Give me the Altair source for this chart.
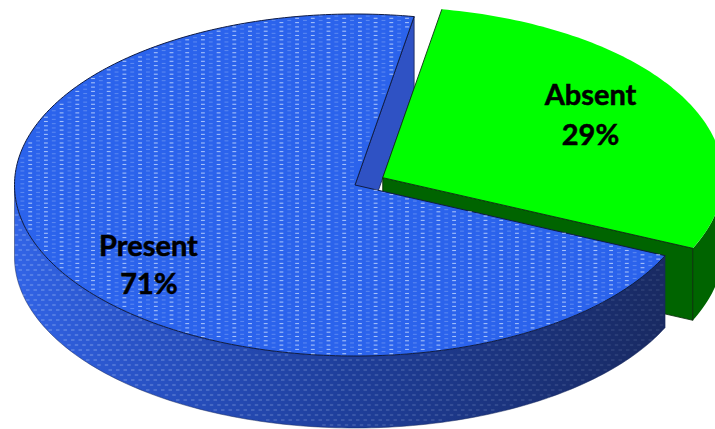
import numpy as np
import pandas as pd
import altair as alt

# Survey split shown on the tilted pie
categories = ["Present", "Absent"]
shares = [71, 29]
share_labels = ["71%", "29%"]

# Layout of the tilted pie, in chart units
WIDTH, HEIGHT = 715, 429
CENTER = np.array([355.0, 185.0])
RX, RY = 340.5, 171.0
DEPTH = 72.0
EXPLODE = 0.092
FIRST_ANGLE = 10.0  # clockwise from the top, where the Absent wedge starts

absent_sweep = shares[1] / sum(shares) * 360.0
absent_start = FIRST_ANGLE
absent_end = FIRST_ANGLE + absent_sweep
absent_mid = np.radians((absent_start + absent_end) / 2)
ABSENT_CENTER = CENTER + np.array(
    [RX * EXPLODE * np.sin(absent_mid), -RY * EXPLODE * np.cos(absent_mid)]
)

PROJ = alt.Projection(type="identity", scale=1, translate=[0, 0])


def rim(center, start, end, drop=0.0, step=1.0):
    """Points along the pie's elliptical rim between two clockwise angles."""
    n = int(abs(end - start) / step) + 2
    t = np.radians(np.linspace(start, end, n))
    return [
        [float(center[0] + RX * np.sin(a)), float(center[1] - RY * np.cos(a) + drop)]
        for a in t
    ]


def shape(geometry, **mark):
    feature = {"type": "Feature", "properties": {}, "geometry": geometry}
    data = alt.InlineData(values={"type": "FeatureCollection", "features": [feature]},
                          format=alt.DataFormat(type="json", property="features"))
    return alt.Chart(data).mark_geoshape(clip=True, **mark).project(**PROJ.to_dict())


def polygon(points, **mark):
    return shape({"type": "Polygon", "coordinates": [points + [points[0]]]}, **mark)


def edge(points, color, width=0.9):
    return shape({"type": "LineString", "coordinates": points},
                 filled=False, stroke=color, strokeWidth=width)


def inside_top(x, y, center, start, end):
    u, v = (x - center[0]) / RX, (center[1] - y) / RY
    ang = np.degrees(np.arctan2(u, v)) % 360
    return u * u + v * v < 0.995 and (ang - start) % 360 < (end - start)


def texture_top():
    # Dashes in columns; every other column is fainter and sits half a row lower
    rows = []
    start, end = absent_end, FIRST_ANGLE + 360
    for i, x in enumerate(np.arange(CENTER[0] - RX, CENTER[0] + RX, 7.85)):
        offset = 2.15 if i % 2 else 0.0
        for y in np.arange(CENTER[1] - RY, CENTER[1] + RY, 4.3) + offset:
            if inside_top(x - 2.5, y, CENTER, start, end) and inside_top(x + 2.5, y, CENTER, start, end):
                rows.append({"x": x, "y": y, "a": 0.28 if i % 2 else 0.72})
    return pd.DataFrame(rows)


def texture_wall():
    # Staggered dashes on the curved wall, fading towards the shaded right side
    rows = []
    right = rim(CENTER, absent_end, absent_end)[0][0] - 2
    for j, y in enumerate(np.arange(CENTER[1], CENTER[1] + RY + DEPTH, 5.0)):
        for x in np.arange(CENTER[0] - RX + 2, right, 7.5) + (3.75 if j % 2 else 0):
            u = (x - CENTER[0]) / RX
            if abs(u) >= 1 or x > right:
                continue
            rim_y = CENTER[1] + RY * np.sqrt(1 - u * u)
            if rim_y + 2 < y < rim_y + DEPTH - 2:
                rows.append({"x": x, "y": y, "a": 0.45 - 0.28 * max(0, (x - 100) / 560)})
    return pd.DataFrame(rows)


def dashes(frame, size):
    return (
        alt.Chart(frame)
        .mark_point(shape="M-1 -0.28H1V0.28H-1Z", filled=True, size=size,
                    color="#d5e6ff", strokeWidth=0)
        .encode(longitude="x:Q", latitude="y:Q",
                opacity=alt.Opacity("a:Q", scale=None))
        .project(**PROJ.to_dict())
    )


# Cut face of the large slice, seen through the gap
start_pt = rim(CENTER, FIRST_ANGLE, FIRST_ANGLE)[0]
cut_face = polygon(
    [CENTER.tolist(), start_pt, [start_pt[0], start_pt[1] + DEPTH],
     [CENTER[0], CENTER[1] + DEPTH]],
    fill="#2F52C4", stroke="#14224f", strokeWidth=0.8,
)

# Absent wedge: inner wall, outer wall, top
absent_rim = rim(ABSENT_CENTER, absent_start, absent_end)
absent_first_pt, absent_end_pt = absent_rim[0], absent_rim[-1]
absent_end_low = [absent_end_pt[0], absent_end_pt[1] + DEPTH]
absent_inner = polygon(
    [ABSENT_CENTER.tolist(), absent_end_pt, absent_end_low,
     [ABSENT_CENTER[0], ABSENT_CENTER[1] + DEPTH]],
    fill="#006400", stroke="#0a2a0a", strokeWidth=0.8,
)
outer_top = rim(ABSENT_CENTER, 90, absent_end)
outer_bottom = rim(ABSENT_CENTER, 90, absent_end, drop=DEPTH)
absent_outer = polygon(outer_top + outer_bottom[::-1], fill="#006400")
absent_top = polygon([ABSENT_CENTER.tolist()] + absent_rim, fill="#00FF00")
absent_edges = edge([absent_first_pt, ABSENT_CENTER.tolist(), absent_end_pt], "#0c3010")
absent_corner = edge([absent_end_pt, absent_end_low], "#0a2a0a", 0.7)

# Present slice: curved wall and top
wall_top = rim(CENTER, absent_end, 270)
wall_bottom = rim(CENTER, absent_end, 270, drop=DEPTH)
wall_fill = alt.Gradient(
    gradient="linear", x1=0, x2=1, y1=0, y2=0,
    stops=[alt.GradientStop(color="#3264E6", offset=0),
           alt.GradientStop(color="#2A54C8", offset=0.18),
           alt.GradientStop(color="#1F3F9C", offset=0.5),
           alt.GradientStop(color="#1B3279", offset=0.8),
           alt.GradientStop(color="#192A62", offset=1)],
)
present_wall = polygon(wall_top + wall_bottom[::-1], fill=wall_fill,
                       stroke="#1a2a5c", strokeWidth=0.5)
present_rim = rim(CENTER, absent_end, FIRST_ANGLE + 360)
present_top = polygon([CENTER.tolist()] + present_rim,
                      fill="#2B63EC", stroke="#0f1c44", strokeWidth=1.0)

# Slice names and percentages
labels = pd.DataFrame({
    "x": [148.5, 149.0, 590.5, 590.5],
    "y": [246.5, 284.5, 95.5, 135.5],
    "label": [categories[0], share_labels[0], categories[1], share_labels[1]],
})
text = (
    alt.Chart(labels)
    .mark_text(font="Lato", fontSize=29, fontWeight="bold", color="#000000",
               stroke="#000000", strokeWidth=0.5,
               align="center", baseline="middle")
    .encode(longitude="x:Q", latitude="y:Q", text="label:N")
    .project(**PROJ.to_dict())
)

chart = alt.layer(
    cut_face,
    absent_inner,
    absent_outer,
    absent_top,
    absent_edges,
    absent_corner,
    present_wall,
    dashes(texture_wall(), 12),
    present_top,
    dashes(texture_top(), 15),
    text,
).properties(
    width=WIDTH, height=HEIGHT, padding=0,
    autosize=alt.AutoSizeParams(type="none"),
    background="#FFFFFF",
).configure_view(strokeWidth=0)

chart.save("out.html", embed_options={"renderer": "svg", "actions": False})
